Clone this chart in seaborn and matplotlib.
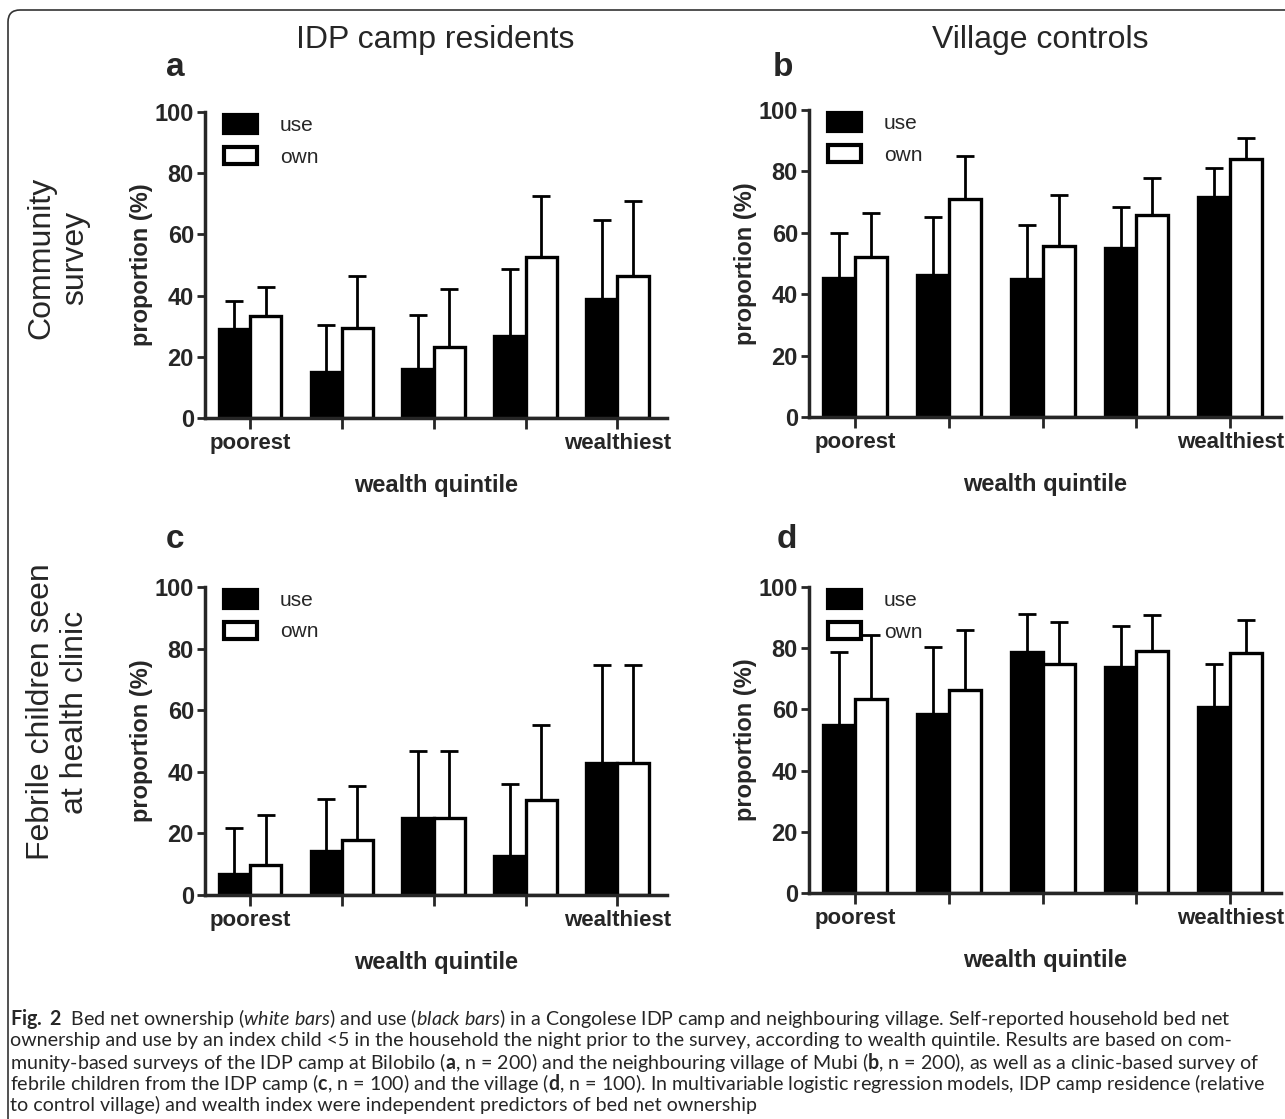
import numpy as np
import pandas as pd
import matplotlib
matplotlib.use("Agg")
import matplotlib.pyplot as plt
import seaborn as sns
from matplotlib.patches import Patch, FancyBboxPatch

# wealth quintiles (only first and last labelled)
quintiles = ["Q1", "Q2", "Q3", "Q4", "Q5"]
tick_labels = ["poorest", "", "", "", "wealthiest"]

# a: IDP camp, community survey
a_use = [29.2, 15.0, 15.9, 26.8, 39.0]
a_use_hi = [38.1, 30.3, 33.6, 48.8, 64.6]
a_own = [33.3, 29.4, 23.2, 52.6, 46.4]
a_own_hi = [42.8, 46.3, 42.3, 72.7, 70.9]

# b: village, community survey
b_use = [45.4, 46.2, 44.8, 54.9, 71.7]
b_use_hi = [60.0, 65.3, 62.5, 68.3, 81.0]
b_own = [52.2, 70.9, 55.8, 65.8, 84.0]
b_own_hi = [66.5, 85.1, 72.3, 78.0, 91.0]

# c: IDP camp, febrile children at clinic
c_use = [6.8, 14.3, 25.0, 12.7, 42.7]
c_use_hi = [21.7, 31.2, 46.7, 36.1, 74.7]
c_own = [9.8, 17.7, 25.0, 30.8, 42.7]
c_own_hi = [26.1, 35.5, 46.7, 55.2, 74.7]

# d: village, febrile children at clinic
d_use = [54.8, 58.4, 78.9, 74.0, 60.7]
d_use_hi = [78.6, 80.3, 91.3, 87.3, 74.8]
d_own = [63.4, 66.5, 74.8, 79.0, 78.4]
d_own_hi = [84.4, 85.9, 88.4, 90.8, 89.2]

W, H = 1285, 1119
sns.set_style("ticks")
plt.rcParams["font.family"] = ["Liberation Sans", "DejaVu Sans"]
plt.rcParams["mathtext.fontset"] = "custom"
plt.rcParams["mathtext.rm"] = "Lato"
plt.rcParams["mathtext.it"] = "Lato:italic"
plt.rcParams["mathtext.bf"] = "Lato:bold"

fig = plt.figure(figsize=(W / 100, H / 100), dpi=100)


def px_axes(left, top, right, bottom):
    return fig.add_axes([left / W, 1 - bottom / H, (right - left) / W, (bottom - top) / H])


def draw_panel(ax, use, use_hi, own, own_hi):
    df = pd.DataFrame({
        "quintile": quintiles * 2,
        "measure": ["use"] * 5 + ["own"] * 5,
        "value": use + own,
        "upper": use_hi + own_hi,
    })
    sns.barplot(data=df, x="quintile", y="value", hue="measure",
                hue_order=["use", "own"], palette={"use": "black", "own": "white"},
                edgecolor="black", linewidth=2.4, width=0.68, errorbar=None,
                legend=False, ax=ax, zorder=2)
    for cont, part in zip(ax.containers, ["use", "own"]):
        sub = df[df["measure"] == part]
        for bar, (_, row) in zip(cont, sub.iterrows()):
            x = bar.get_x() + bar.get_width() / 2
            ax.errorbar(x, row["value"], yerr=[[0], [row["upper"] - row["value"]]],
                        fmt="none", ecolor="black", elinewidth=2, capsize=6.5,
                        capthick=2, zorder=1)
    ax.set_ylim(0, 100)
    ax.set_xlim(-0.49, 4.54)
    ax.set_yticks([0, 20, 40, 60, 80, 100])
    ax.set_xticks(range(5))
    ax.set_xticklabels(tick_labels, fontsize=16, fontweight="bold")
    for lab in ax.get_yticklabels():
        lab.set_fontsize(17)
        lab.set_fontweight("bold")
    ax.tick_params(axis="y", length=6, width=2, pad=2)
    ax.tick_params(axis="x", length=8, width=2, pad=3)
    for s in ["left", "bottom"]:
        ax.spines[s].set_linewidth(2.5)
    sns.despine(ax=ax)
    ax.set_ylabel("proportion (%)", fontsize=17, fontweight="bold", labelpad=1)
    ax.set_xlabel("wealth quintile", fontsize=17, fontweight="bold", labelpad=14)
    handles = [Patch(facecolor="black", edgecolor="black", linewidth=3, joinstyle="round"),
               Patch(facecolor="white", edgecolor="black", linewidth=3, joinstyle="round")]
    ax.legend(handles, ["use", "own"], loc="upper left", bbox_to_anchor=(0.0, 1.05),
              frameon=False, fontsize=15, handlelength=1.6, handleheight=0.9,
              handletextpad=1.1, labelspacing=0.55)


ax_a = px_axes(205, 112, 667, 418)
ax_b = px_axes(809, 110, 1281, 417)
ax_c = px_axes(205, 587, 667, 895)
ax_d = px_axes(809, 587, 1281, 893)

draw_panel(ax_a, a_use, a_use_hi, a_own, a_own_hi)
draw_panel(ax_b, b_use, b_use_hi, b_own, b_own_hi)
draw_panel(ax_c, c_use, c_use_hi, c_own, c_own_hi)
draw_panel(ax_d, d_use, d_use_hi, d_own, d_own_hi)

# column and row headers
fig.text(435 / W, 1 - 40 / H, "IDP camp residents", fontsize=23, ha="center", va="center")
fig.text(1040 / W, 1 - 40 / H, "Village controls", fontsize=23, ha="center", va="center")
fig.text(58 / W, 1 - 258 / H, "Community\nsurvey", fontsize=23, rotation=90,
         ha="center", va="center", linespacing=1.15)
fig.text(58 / W, 1 - 712 / H, "Febrile children seen\nat health clinic", fontsize=23,
         rotation=90, ha="center", va="center", linespacing=1.15)

# panel letters
for lx, ly, letter in [(175, 68, "a"), (783, 68, "b"), (175, 540, "c"), (787, 540, "d")]:
    fig.text(lx / W, 1 - ly / H, letter, fontsize=24, fontweight="bold", ha="center", va="center")

# caption
caption = [
    r"$\mathbf{Fig.\ 2}$  Bed net ownership ($\mathit{white\ bars}$) and use ($\mathit{black\ bars}$) in a Congolese IDP camp and neighbouring village. Self-reported household bed net",
    "ownership and use by an index child <5 in the household the night prior to the survey, according to wealth quintile. Results are based on com-",
    r"munity-based surveys of the IDP camp at Bilobilo ($\mathbf{a}$, n = 200) and the neighbouring village of Mubi ($\mathbf{b}$, n = 200), as well as a clinic-based survey of",
    r"febrile children from the IDP camp ($\mathbf{c}$, n = 100) and the village ($\mathbf{d}$, n = 100). In multivariable logistic regression models, IDP camp residence (relative",
    "to control village) and wealth index were independent predictors of bed net ownership",
]
for i, line in enumerate(caption):
    fig.text(10 / W, 1 - (1019 + i * 21.5) / H, line, fontsize=14.1, family="Lato",
             ha="left", va="center")

# rounded frame around the figure
frame = FancyBboxPatch((8, -60), 1400, H - 10 + 60, boxstyle="round,pad=0,rounding_size=12",
                       transform=None, facecolor="none", edgecolor="#333333", linewidth=1.2)
fig.add_artist(frame)

fig.savefig("out.png", dpi=100)
